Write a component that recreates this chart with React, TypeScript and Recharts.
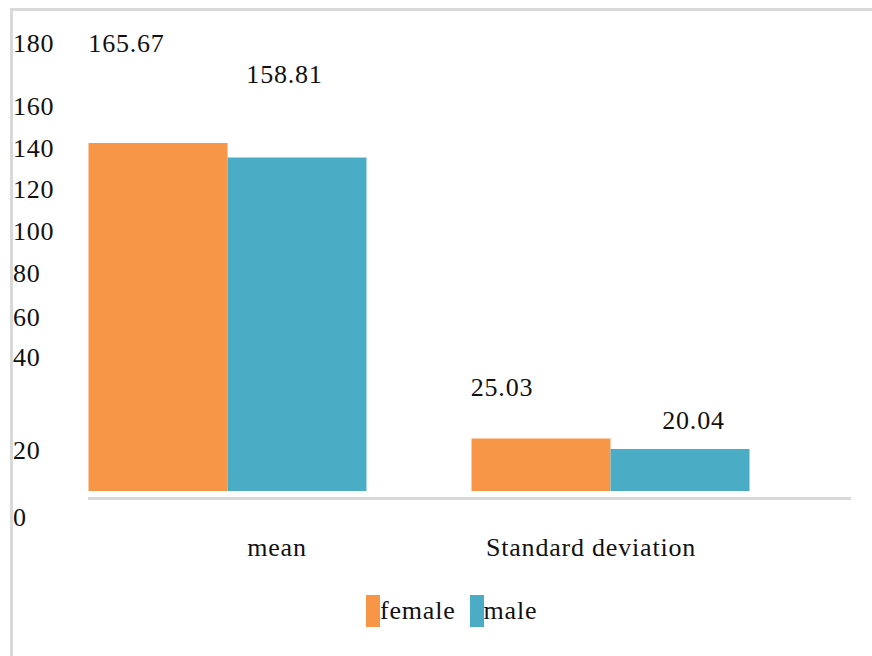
import React from 'react';
import { BarChart, Bar, XAxis, YAxis, Legend, LabelList, ReferenceLine } from 'recharts';

const categories = ['mean', 'Standard deviation'];
const femaleValues = [165.67, 25.03];
const maleValues = [158.81, 20.04];

// tick labels and the axis value where each label sits (the original places them unevenly)
const yTickLabels = ['0', '20', '40', '60', '80', '100', '120', '140', '160', '180'];
const yTickAt = [-12.4, 19.3, 63.8, 82.9, 103.6, 123.6, 143.6, 163.1, 183.3, 213.1];

const data = categories.map((name, i) => ({
  name,
  female: femaleValues[i],
  male: maleValues[i],
}));

const FONT = '"Liberation Serif", "Times New Roman", serif';
const TEXT = '#111';
const ORANGE = '#F79646';
const BLUE = '#4BACC6';

const YTick = (props: any) => {
  const { x, y, payload } = props;
  let i = yTickAt.indexOf(payload.value);
  if (i < 0) i = payload.index;
  return (
    <text x={x - 23} y={y} dy="0.34em" textAnchor="start" fill={TEXT} fontFamily={FONT} fontSize={26} letterSpacing={0.8}>
      {yTickLabels[i]}
    </text>
  );
};

const xShift = [49.5, -19.5];
const XTick = (props: any) => {
  const { x, y, payload } = props;
  return (
    <text x={x + xShift[payload.index]} y={y} dy={23} textAnchor="middle" fill={TEXT} fontFamily={FONT} fontSize={26} letterSpacing={0.8}>
      {payload.value}
    </text>
  );
};

// label offsets (dx, rise above bar top) as placed in the original
const labelShift: Record<string, [number, number][]> = {
  female: [[-31.5, 99.5], [-39, 51]],
  male: [[-12.5, 83], [13.5, 29]],
};

const makeLabel = (key: string) => (props: any) => {
  const { x, y, width, value, index } = props;
  const [dx, rise] = labelShift[key][index];
  return (
    <text x={x + width / 2 + dx} y={y - rise} dy="0.34em" textAnchor="middle" fill={TEXT} fontFamily={FONT} fontSize={26} letterSpacing={0.8}>
      {Number(value).toFixed(2)}
    </text>
  );
};

const LegendContent = (props: any) => {
  const { payload } = props;
  return (
    <div style={{ display: 'flex', fontFamily: FONT, fontSize: 26, color: TEXT, letterSpacing: 0.8 }}>
      {payload.map((entry: any) => (
        <div key={entry.value} style={{ display: 'flex', alignItems: 'center', height: 32, marginRight: 14 }}>
          <span style={{ display: 'inline-block', width: 14, height: 32, background: entry.color }} />
          <span style={{ lineHeight: '32px' }}>{entry.value}</span>
        </div>
      ))}
    </div>
  );
};

const AxisLine = (p: any) => (
  <line x1={p.x1 + 52} x2={p.x2 + 49} y1={p.y1 + 7.5} y2={p.y2 + 7.5} stroke="#d9d9d9" strokeWidth={3} />
);

export default function App() {
  return (
    <div style={{ position: 'absolute', left: 0, top: 0, width: 872, height: 656, overflow: 'hidden', background: '#fff' }}>
      <div
        style={{
          position: 'absolute',
          left: 10,
          top: 8,
          right: 0,
          bottom: 0,
          borderTop: '3px solid #d9d9d9',
          borderLeft: '3px solid #d9d9d9',
        }}
      />
      <div style={{ position: 'absolute', left: 0, top: 0 }}>
        <BarChart
          width={872}
          height={656}
          data={data}
          margin={{ top: 29, right: 70, left: 0, bottom: 93 }}
          barCategoryGap={52.5}
          barGap={0}
        >
          <XAxis
            dataKey="name"
            height={30}
            axisLine={false}
            tickLine={false}
            tickSize={0}
            tickMargin={0}
            interval={0}
            tick={<XTick />}
          />
          <YAxis
            type="number"
            domain={[-20, 220]}
            ticks={yTickAt}
            interval={0}
            width={36}
            axisLine={false}
            tickLine={false}
            tickSize={0}
            tickMargin={0}
            tick={<YTick />}
          />
          <ReferenceLine y={0} shape={AxisLine} ifOverflow="visible" />
          <Bar dataKey="female" name="female" fill={ORANGE} isAnimationActive={false}>
            <LabelList dataKey="female" content={makeLabel('female')} />
          </Bar>
          <Bar dataKey="male" name="male" fill={BLUE} isAnimationActive={false}>
            <LabelList dataKey="male" content={makeLabel('male')} />
          </Bar>
          <Legend
            layout="horizontal"
            verticalAlign="middle"
            align="center"
            content={<LegendContent />}
            wrapperStyle={{ position: 'absolute', left: 366, top: 595, width: 'auto' }}
          />
        </BarChart>
      </div>
    </div>
  );
}
